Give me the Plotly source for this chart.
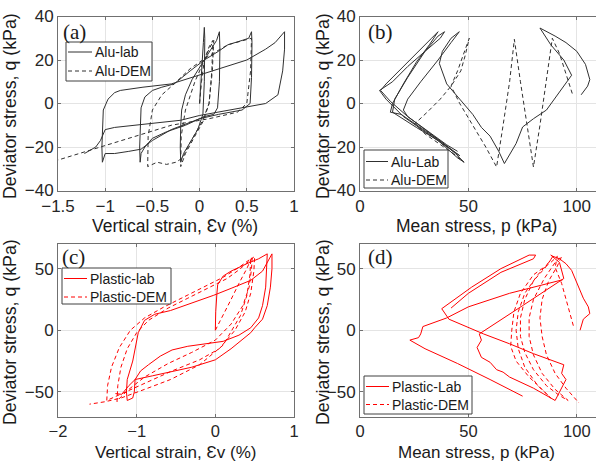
import plotly.graph_objects as go

# ---------------- (a) Alu: strain vs q ----------------
a_lab_strain = [0, 0.02, 0.04, 0.05,
                0.055, 0.05, 0.035, -0.02, -0.1, -0.17, -0.2,
                -0.205, -0.2, -0.19, -0.15, -0.08, 0.02, 0.12, 0.18, 0.21,
                0.215, 0.21, 0.19, 0.15, 0.05, -0.15, -0.35, -0.5, -0.58, -0.62, -0.63,
                -0.635, -0.63, -0.62, -0.58, -0.5, -0.4, -0.27, -0.1, 0.05, 0.2, 0.3, 0.45, 0.52, 0.55,
                0.555, 0.55, 0.535, 0.45, 0.2, 0, -0.3, -0.5, -0.62, -0.75, -0.9, -1.0, -1.03,
                -1.035, -1.03, -1.02, -0.97, -0.9, -0.84, -0.6, -0.3, 0, 0.3, 0.5, 0.7, 0.8, 0.9,
                0.9, 0.88, 0.83, 0.7, 0.4, 0, -0.2, -0.6, -0.9, -1.0, -1.05, -1.1, -1.22]
a_lab_q = [0, 12, 28, 35,
           30, 10, -5, -12, -18, -23, -27,
           -20, -10, -3, 4, 11, 18, 25, 29, 33,
           25, 10, -2, -5, -6, -10, -13, -16, -20, -23, -27,
           -20, -10, -2, 3, 6, 7.5, 9, 15, 20, 24, 27, 29, 30, 33,
           28, 12, 0, -3, -5, -7, -12, -17, -21, -22, -23, -23, -27,
           -20, -10, -3, 2, 5, 6, 7.5, 9, 13, 17, 20, 25, 28, 33,
           25, 15, 4, 0, -2.5, -5.5, -7.7, -9.5, -11, -12, -17, -20, -23]

a_dem_strain = [0, 0.02, 0.05, 0.1, 0.14,
                0.13, 0.1, 0.04, -0.05, -0.15, -0.2,
                -0.195, -0.15, -0.05, 0.03, 0.1, 0.15,
                0.135, 0.1, 0.03, -0.1, -0.18, -0.25, -0.35, -0.45, -0.55,
                -0.545, -0.5, -0.4, -0.27, -0.1, 0.1, 0.3, 0.45, 0.55,
                0.54, 0.5, 0.4, 0.1, -0.3, -0.6, -1.0, -1.2, -1.35, -1.5]
a_dem_q = [0, 10, 20, 26, 29,
           15, 0, -8, -15, -23, -29,
           -15, -3, 10, 18, 25, 29,
           15, 0, -8, -18, -25, -27, -28, -27, -29,
           -15, -3, 4, 9, 16, 22, 27, 29, 30,
           15, 0, -4, -7, -10, -14, -19, -22, -24, -26]

# ---------------- (b) Alu: p vs q ----------------
b_lab_p = [102, 105, 106, 104, 100, 95, 90, 83,
           88, 94, 97.6, 92, 86, 80, 75, 72, 70, 68, 66.6,
           64, 60, 56, 52, 46, 40, 36.6, 38, 42, 45.8,
           42, 36, 28, 22, 20, 22, 30, 38, 44, 48,
           45, 36, 26, 18, 15, 16, 22, 30, 36, 39,
           37, 30, 22, 15, 9, 12, 20, 30, 40, 46,
           38, 28, 19, 14, 15, 20, 26, 32, 36,
           33, 25, 18, 12, 9.5, 14, 22, 32, 40, 45]
b_lab_q = [4, 8, 11, 18, 24, 28, 31, 34.7,
           27, 20, 13, 5, -3, -7, -10.8, -18.4, -22, -25, -27.6,
           -22, -15, -11, -5, 2, 9, 18.4, 24, 30, 33,
           28, 20, 10, 2, -3, -6, -12, -18, -23, -27,
           -25, -17, -11, -6, -4, 2, 12, 24, 31, 33,
           30, 24, 17, 10, 6, 2, -6, -13, -20, -24,
           -18, -11, -5, -4, 0, 9, 19, 27, 33,
           30, 22, 15, 9, 6, 1, -6, -13, -19, -22]

b_dem_p = [97.9, 95, 92, 88.7,
           86, 83, 80,
           77, 74, 71.2,
           69, 66, 63,
           58, 52, 46, 42, 45, 47.5, 50.4,
           48.5, 46.5, 42, 37, 31, 25.4,
           30, 37, 43, 48]
b_dem_q = [4.6, 14, 23, 30,
           10, -10, -29.2,
           -10, 10, 29.5,
           10, -10, -29.2,
           -20, -10, 0, 8, 15, 22, 30,
           22, 15, 8, 2, -4, -9.2,
           -14, -19, -23, -27]

# ---------------- (c) Plastic: strain vs q ----------------
c_lab_strain = [0, 0.005, 0.02, 0.03, 0.1, 0.2, 0.4, 0.55, 0.66,
                0.655, 0.64, 0.6, 0.55, 0.45, 0.3, 0.1, -0.1, -0.35, -0.55, -0.7, -0.85, -0.95, -1.02, -1.03, -1.05, -1.12,
                -1.13, -1.12, -1.05, -1.02, -0.98, -0.9, -0.77, -0.57, -0.3, -0.02, 0.2, 0.45, 0.6, 0.7, 0.72,
                0.72, 0.7, 0.66, 0.6, 0.5, 0.45, 0.2, 0, -0.3, -0.57, -0.8, -1.02, -1.1, -1.19, -1.27]
c_lab_q = [0, 15, 30, 37, 44, 48, 54, 58, 62,
           50, 35, 20, 10, 2, -4, -9, -11, -13, -16, -21, -28, -33, -40, -50, -55, -57,
           -50, -40, -25, -15, -2, 8, 13, 16, 22, 28.4, 34, 40.5, 48, 60.8, 62,
           50, 35, 20, 9, 2, -2, -15, -24, -30, -34, -37, -40, -45, -52, -51.4]

c_dem_strain = [0, 0.1, 0.2, 0.3, 0.4, 0.47,
                0.46, 0.43, 0.35, 0.2, 0.0, -0.3, -0.6, -0.9, -1.1, -1.2, -1.25,
                -1.24, -1.2, -1.12, -1.0, -0.85, -0.6, -0.35, -0.1, 0.15, 0.3, 0.5,
                0.49, 0.45, 0.38, 0.25, 0.05, -0.2, -0.55, -0.9, -1.2, -1.38,
                -1.37, -1.32, -1.22, -1.08, -0.9, -0.65, -0.4, -0.15, 0.1, 0.3, 0.45,
                0.44, 0.4, 0.32, 0.1, -0.2, -0.57, -0.9, -1.2, -1.4, -1.6]
c_dem_q = [0, 12, 25, 38, 50, 60,
           50, 35, 20, 5, -8, -18, -27, -38, -48, -54, -58,
           -45, -30, -15, -2, 8, 18, 26, 34, 42, 49, 60,
           48, 30, 15, 0, -15, -24, -33, -43, -52, -57,
           -45, -30, -14, 0, 10, 19, 27, 35, 43, 51, 58,
           45, 28, 12, -12, -28, -40, -48, -55, -58, -60]

# ---------------- (d) Plastic: p vs q ----------------
d_lab_p = [101.5, 103, 106, 105.3, 103, 101.5, 99, 97.6, 95, 92, 89, 88,
           92, 94, 75, 55, 56, 54, 56, 60, 63, 66, 69, 80, 90,
           92, 95, 93, 94, 80, 69, 57, 41, 37.7, 51.5, 65, 78, 81, 80, 65, 50, 42,
           None,
           93.5, 69, 50, 40, 29, 28, 27, 23, 30, 45, 60, 75]
d_lab_q = [0, 9, 13.5, 19, 26, 32, 42, 48.6, 54, 58, 60, 61,
           55, 42, 20, -3, -8, -14, -22, -26, -32, -34, -38, -47, -57,
           -50, -40, -35, -28, -19, -11, -3, 9, 17.5, 35, 50, 61, 61, 58, 47, 30, 18,
           None,
           41, 30, 19, 10, 3, -3, -6, -8, -15, -27, -40, -53.5]

d_dem_p = [98.4, 96, 93, 90, 91,
           88, 80, 74, 71, 70, 69.5, 72, 78, 84, 88,
           82, 76, 73, 72, 73, 76, 82, 87, 89,
           86, 80, 76, 74, 74, 76, 80, 86, 92, 96,
           90, 84, 80, 78, 78, 80, 85, 90, 93,
           91, 87, 84, 83, 84, 86, 90, 95, 101]
d_dem_q = [3.7, 20, 38, 51, 60,
           55, 45, 30, 15, 0, -13, -25, -38, -48, -55,
           -45, -30, -15, 0, 15, 30, 45, 55, 60,
           52, 40, 25, 10, -5, -18, -32, -45, -53, -57,
           -48, -35, -20, -5, 10, 25, 42, 55, 60,
           52, 40, 25, 10, -5, -20, -35, -47, -59]

legend_names = [["Alu-lab", "Alu-DEM"], ["Alu-Lab", "Alu-DEM"],
                ["Plastic-lab", "Plastic-DEM"], ["Plastic-Lab", "Plastic-DEM"]]

W, H = 596, 463
SANS = "Liberation Sans, Arial, sans-serif"
SERIF = "Liberation Serif, Times New Roman, serif"
BLK = "#303030"
RED = "#ff0000"
DASH = "4px,3px"

fig = go.Figure()

def add(x, y, name, color, dash, xa, ya):
    fig.add_trace(go.Scatter(x=x, y=y, mode="lines", name=name,
                             line=dict(color=color, width=1, dash=dash),
                             xaxis=xa, yaxis=ya, connectgaps=False,
                             showlegend=False, hoverinfo="skip"))

add(a_lab_strain, a_lab_q, legend_names[0][0], BLK, "solid", "x", "y")
add(a_dem_strain, a_dem_q, legend_names[0][1], BLK, DASH, "x", "y")
add(b_lab_p, b_lab_q, legend_names[1][0], BLK, "solid", "x2", "y2")
add(b_dem_p, b_dem_q, legend_names[1][1], BLK, DASH, "x2", "y2")
add(c_lab_strain, c_lab_q, legend_names[2][0], RED, "solid", "x3", "y3")
add(c_dem_strain, c_dem_q, legend_names[2][1], RED, DASH, "x3", "y3")
add(d_lab_p, d_lab_q, legend_names[3][0], RED, "solid", "x4", "y4")
add(d_dem_p, d_dem_q, legend_names[3][1], RED, DASH, "x4", "y4")

def ax(domain, rng, tickvals, anchor, mirror="ticks", fsize=17):
    return dict(domain=domain, range=rng, tickvals=tickvals, anchor=anchor,
                automargin=False, showline=True, mirror=mirror,
                linecolor="#707070", linewidth=1,
                ticks="inside", ticklen=3, tickcolor="#707070",
                showgrid=True, gridcolor="#e4e4e4", gridwidth=1, zeroline=False,
                tickfont=dict(family=SANS, size=fsize, color="#262626"))

def px(x):
    return x / W

def py(y):
    return 1 - y / H

xl = [px(58), px(294)]
xr = [px(360), 1.0]
yt = [py(190.5), py(16.5)]
yb = [py(416.5), py(244)]

anns = []
shapes = []

def txt(s, x, y, size=17.5, angle=0, fam=SANS, xanchor="center", color="#1a1a1a"):
    anns.append(dict(text=s, x=px(x), y=py(y), xref="paper", yref="paper",
                     showarrow=False, xanchor=xanchor, yanchor="middle",
                     textangle=angle, borderpad=0,
                     font=dict(family=fam, size=size, color=color)))

txt("Vertical strain, Ɛv (%)", 175, 226)
txt("Mean stress, p (kPa)", 476, 226)
txt("Vertical strain, Ɛv (%)", 175, 452.5, size=17)
txt("Mean stress, p (kPa)", 476, 452.5, size=17)
txt("Deviator stress, q (kPa)", 10, 106, size=17.8, angle=-90)
txt("Deviator stress, q (kPa)", 323, 106, size=17.8, angle=-90)
txt("Deviator stress, q (kPa)", 10, 332, size=17.8, angle=-90)
txt("Deviator stress, q (kPa)", 323, 332, size=17.8, angle=-90)
txt("(a)", 62, 32, size=21, fam=SERIF, xanchor="left")
txt("(b)", 367, 32, size=21, fam=SERIF, xanchor="left")
txt("(c)", 61, 257, size=21, fam=SERIF, xanchor="left")
txt("(d)", 367, 257, size=21, fam=SERIF, xanchor="left")

# hand-drawn MATLAB-style legends (box, line samples, labels)
def legend_box(names, color, x0, y0, x1, y1, lx0, lx1, rows):
    shapes.append(dict(type="rect", xref="paper", yref="paper",
                       x0=px(x0), x1=px(x1), y0=py(y1), y1=py(y0),
                       line=dict(color="#404040", width=1), fillcolor="white", layer="above"))
    for name, dash, ry in zip(names, ["solid", DASH], rows):
        shapes.append(dict(type="line", xref="paper", yref="paper",
                           x0=px(lx0), x1=px(lx1), y0=py(ry), y1=py(ry),
                           line=dict(color=color, width=1, dash=dash), layer="above"))
        anns.append(dict(text=name, x=px(lx1 + 1.5), y=py(ry), xref="paper", yref="paper",
                         showarrow=False, xanchor="left", yanchor="middle", borderpad=0,
                         font=dict(family=SANS, size=14, color="#1a1a1a")))

legend_box(legend_names[0], BLK, 66, 42, 152, 81, 68, 92, [52, 71])
legend_box(legend_names[1], BLK, 364, 150, 448, 188, 366, 388, [161.5, 180])
legend_box(legend_names[2], RED, 62, 268, 171, 304, 64, 87, [278.5, 297])
legend_box(legend_names[3], RED, 364, 376, 472, 414, 366, 389, [386.5, 404.5])

fig.update_layout(
    template="none",
    width=W, height=H, margin=dict(l=0, r=0, t=0, b=0, pad=0),
    paper_bgcolor="white", plot_bgcolor="white", showlegend=False,
    xaxis=ax(xl, [-1.5, 1], [-1.5, -1, -0.5, 0, 0.5, 1], "y"),
    yaxis=ax(yt, [-40, 40], [-40, -20, 0, 20, 40], "x"),
    xaxis2=ax(xr, [0, 108.85], [0, 50, 100], "y2"),
    yaxis2=ax(yt, [-40, 40], [-40, -20, 0, 20, 40], "x2", mirror=False),
    xaxis3=ax(xl, [-2, 1], [-2, -1, 0, 1], "y3", fsize=16.5),
    yaxis3=ax(yb, [-70, 70], [-50, 0, 50], "x3"),
    xaxis4=ax(xr, [0, 108.85], [0, 50, 100], "y4", fsize=16.5),
    yaxis4=ax(yb, [-70, 70], [-50, 0, 50], "x4", mirror=False),
    annotations=anns,
    shapes=shapes,
)

fig.write_html("out.html")
